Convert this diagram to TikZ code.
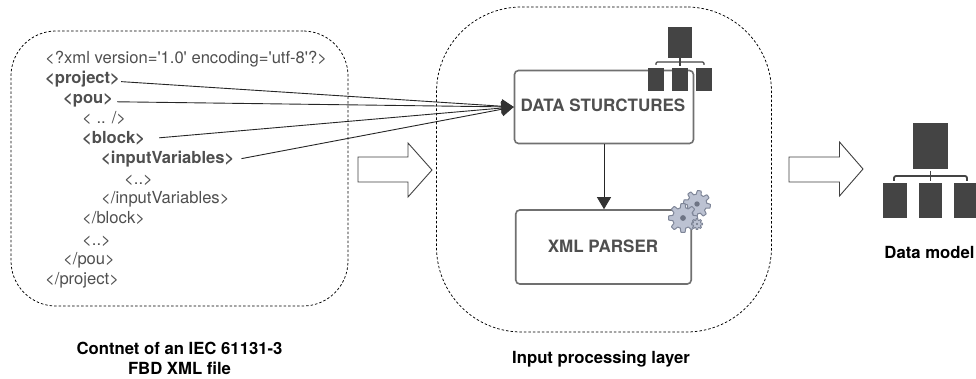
\documentclass[tikz,border=0pt]{standalone}
\usepackage{fontspec}
\setmainfont{TeX Gyre Heros}
\newfontfamily\xmlfont{TeX Gyre Heros}
\usetikzlibrary{arrows.meta,calc}
\definecolor{txt}{HTML}{4F4F4F}
\definecolor{dk}{HTML}{444444}
\definecolor{boxline}{HTML}{707070}
\definecolor{gearfill}{HTML}{BCC2D2}
\definecolor{gearedge}{HTML}{7F8698}
\definecolor{gearhole}{HTML}{6E7484}
\tikzset{
  x=1pt,y=-1pt,
  dashbox/.style={draw=black,line width=0.75pt,dash pattern=on 2.5pt off 2pt},
  xmlline/.style={anchor=base west,inner sep=0pt,text=txt,font=\xmlfont\fontsize{16.6}{18}\selectfont},
  xmlbold/.style={xmlline,font=\xmlfont\fontsize{16.6}{18}\selectfont\bfseries},
  procbox/.style={draw=boxline,line width=1.6pt,rounded corners=4pt,fill=white},
  proctext/.style={inner sep=0pt,text=txt,font=\fontsize{17}{20}\selectfont\bfseries},
  caption/.style={inner sep=0pt,text=black,align=center,font=\fontsize{16.7}{20}\selectfont\bfseries},
  linkline/.style={draw=black!85,line width=0.9pt,-{Triangle[length=12pt,width=14pt,color=black!80]}},
  bigarrow/.style={draw=black!75,line width=0.9pt,fill=white,line join=miter},
  iconpart/.style={fill=dk,draw=none},
  iconline/.style={draw=dk,line width=1.3pt,rounded corners=1.2pt},
}
\newcommand{\gearicon}[4]{% x, y, radius, angle offset
  \begin{scope}[shift={(#1,#2)}]
    \draw[fill=gearfill,draw=gearedge,line width=1pt,line join=round]
      plot[domain=0:360,samples=145] (\x+#4:{#3*(0.86+0.14*max(-1,min(1,2.5*cos(8*\x))))}) -- cycle;
    \fill[gearhole] (0,0) circle[radius=#3*0.2];
  \end{scope}
}
\begin{document}
\begin{tikzpicture}
\useasboundingbox (0,0) rectangle (976,379);
% dashed regions
\node[dashbox,rounded corners=45pt,minimum width=337pt,minimum height=275pt,inner sep=0pt] (xmlregion) at (179.5,168.5) {};
\node[dashbox,rounded corners=85pt,minimum width=335pt,minimum height=325pt,inner sep=0pt] (inregion) at (604,169.5) {};
% XML lines
\node[xmlline] (l1) at (45,64) {<?xml version='1.0' encoding='utf-8'?>};
\node[xmlbold] (proj) at (45,84) {<project>};
\node[xmlbold] (pou) at (63,104) {<pou>};
\node[xmlline] (l3) at (82,124) {< .. />};
\node[xmlbold] (blk) at (82,144) {<block>};
\node[xmlbold] (inp) at (101,164) {<inputVariables>};
\node[xmlline] (l5) at (124,185) {<..>};
\node[xmlline] (l6) at (101,204) {</inputVariables>};
\node[xmlline] (l7) at (82,224) {</block>};
\node[xmlline] (l8) at (82,245) {<..>};
\node[xmlline] (l9) at (63,264) {</pou>};
\node[xmlline] (l10) at (45,284) {</project>};
% process boxes
\node[procbox,minimum width=179pt,minimum height=73pt,inner sep=0pt] (ds) at (604,107) {};
\node[proctext] (dstext) at (603,105.5) {DATA STURCTURES};
\node[procbox,minimum width=175.5pt,minimum height=74pt,inner sep=0pt] (xp) at (603.5,247) {};
\node[proctext] (xptext) at (603,246.5) {XML PARSER};
% links
\draw[linkline] ([xshift=1pt,yshift=-2pt]proj.east) -- (ds.west);
\draw[linkline] ([xshift=4pt,yshift=-1pt]pou.east) -- (ds.west);
\draw[linkline] ([xshift=14pt,yshift=1pt]blk.east) -- (ds.west);
\draw[linkline] ([xshift=7pt,yshift=1pt]inp.east) -- (ds.west);
\draw[linkline] (ds.south -| 604,143) -- (xp.north -| 604,210);
% block arrows
\draw[bigarrow] (358,157) -- (408,157) -- (408,143) -- (432,170) -- (408,197) -- (408,182) -- (358,182) -- cycle;
\draw[bigarrow] (789,157) -- (839.5,157) -- (839.5,142) -- (863,169) -- (839.5,196) -- (839.5,182) -- (789,182) -- cycle;
% small icon
\fill[iconpart] (668,27) rectangle (692,58);
\draw[iconline] (656,65) -- (656,62) -- (704,62) -- (704,65);
\draw[iconline,rounded corners=0pt] (680,58) -- (680,66);
\fill[iconpart] (648,68) rectangle (664,91);
\fill[iconpart] (672,68) rectangle (688,91);
\fill[iconpart] (696,68) rectangle (712,91);
% big icon
\fill[iconpart] (913,123) rectangle (948,169);
\draw[iconline,line width=1.8pt,rounded corners=2pt] (894,181) -- (894,176) -- (967,176) -- (967,181);
\draw[iconline,line width=1.8pt,rounded corners=0pt] (930.5,171) -- (930.5,181);
\fill[iconpart] (883,183.5) rectangle (906.5,218);
\fill[iconpart] (918.5,183.5) rectangle (942,218);
\fill[iconpart] (954,183.5) rectangle (976,218);
% gears
\gearicon{697}{204}{13.5}{10}
\gearicon{683}{218}{14.5}{0}
\gearicon{697}{224}{5.5}{0}
% captions
\node[caption] (cap1) at (179.5,358) {Contnet of an IEC 61131-3\\FBD XML file};
\node[caption] (cap2) at (601,359) {Input processing layer};
\node[caption] (cap3) at (929.5,252) {Data model};
\end{tikzpicture}
\end{document}
